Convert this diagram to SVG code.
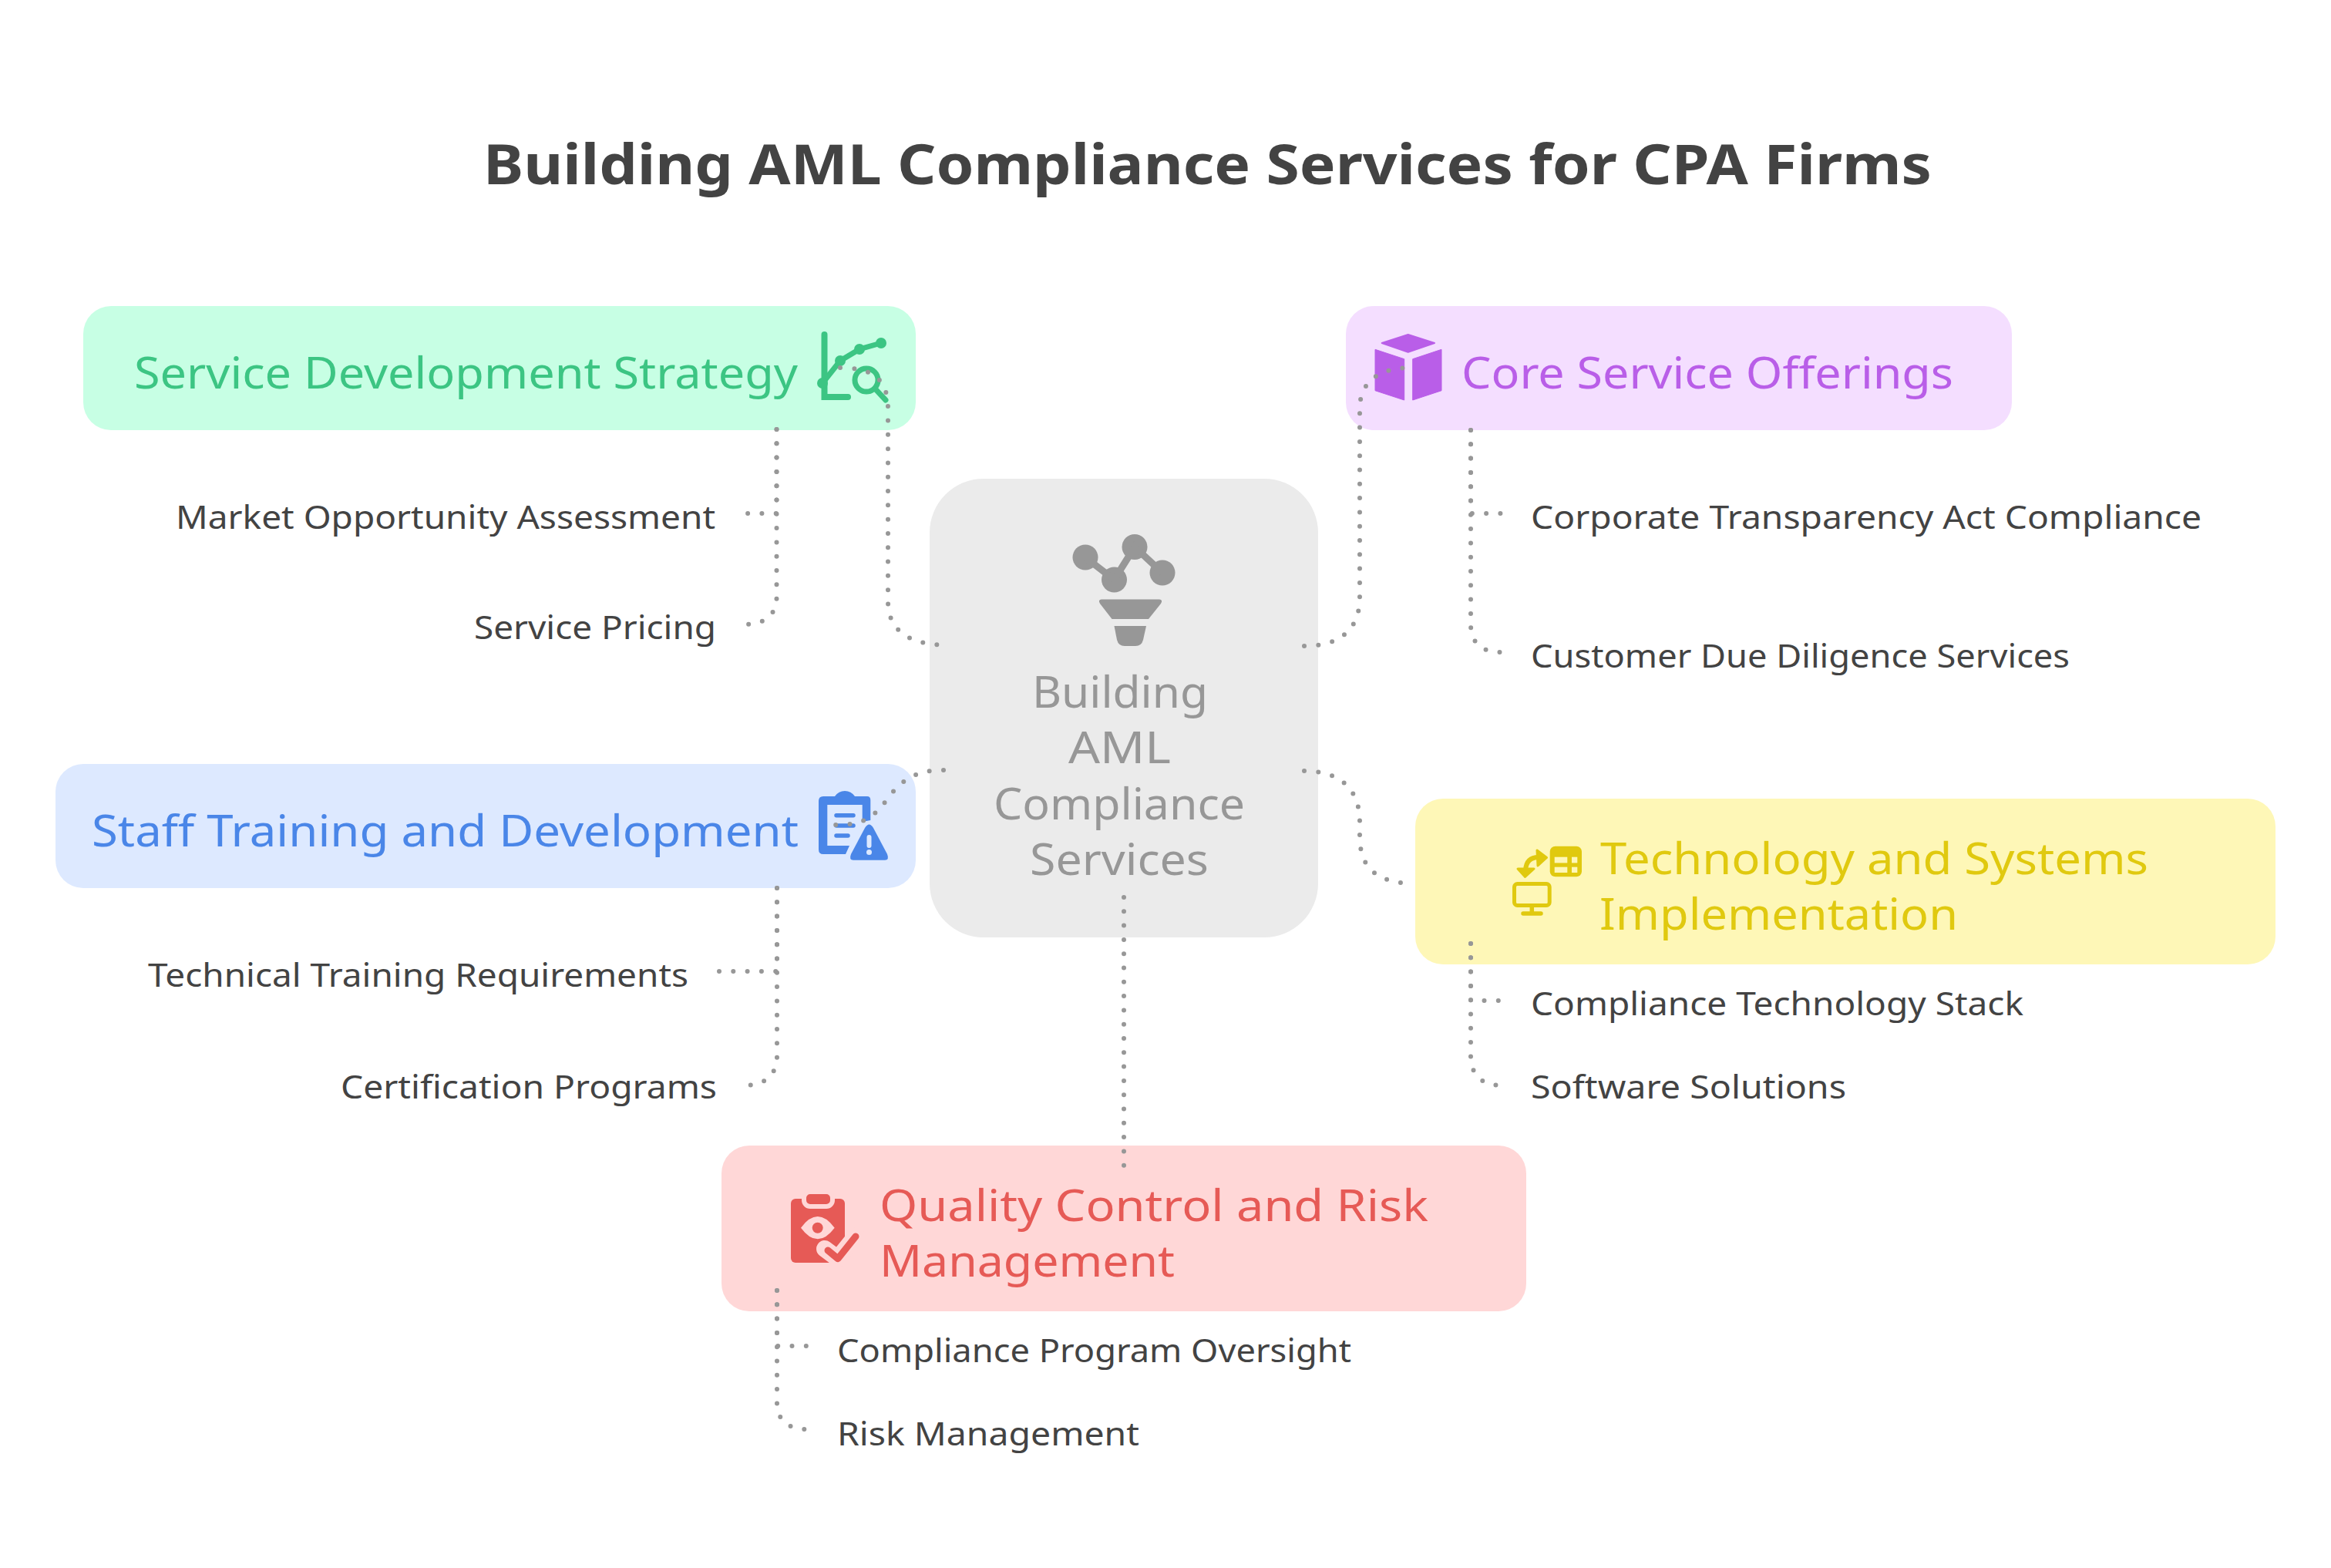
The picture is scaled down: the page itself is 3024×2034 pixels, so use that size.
<svg xmlns="http://www.w3.org/2000/svg" width="3024" height="2034" viewBox="0 0 3024 2034">
<style>
text{font-family:"Noto Sans","Open Sans",sans-serif}
.title{font-size:72px;font-weight:700;fill:#434343}
.sub{font-size:42px;fill:#434343}
.lab{font-size:56px}
.mid{font-size:56px;fill:#979797}
.con{fill:none;stroke:#979797;stroke-width:6;stroke-linecap:round;stroke-dasharray:0 18.3}
.g{fill:#3cc583}.p{fill:#b95ee8}.b{fill:#4a86e8}.y{fill:#e0c90f}.r{fill:#e65a56}.c{fill:#979797}
</style>
<rect width="3024" height="2034" fill="#fff"/>
<text class="title" x="627" y="239" textLength="1879" lengthAdjust="spacingAndGlyphs">Building AML Compliance Services for CPA Firms</text>

<g id="center">
<rect x="1206" y="621" width="504" height="595" rx="70" fill="#ebebeb"/>
<g class="c">
<circle cx="1408" cy="723" r="16.5"/><circle cx="1445.5" cy="752" r="16.5"/><circle cx="1472" cy="709.500" r="16.500"/><circle cx="1508" cy="743" r="16.500"/>
<path d="M1408 723L1445.500 752L1472 709.500L1508 743" fill="none" stroke="#979797" stroke-width="9"/>
<path d="M1429 777.500H1504Q1509 778 1506 783L1490 803H1442.500L1427 783Q1424 778 1429 777.500Z"/>
<path d="M1445.500 812H1487L1483 830Q1481 838 1473 838H1459Q1451 838 1449 830Z"/>
</g>
<text class="mid" x="1339" y="918" textLength="228" lengthAdjust="spacingAndGlyphs">Building</text>
<text class="mid" x="1386" y="990" textLength="133" lengthAdjust="spacingAndGlyphs">AML</text>
<text class="mid" x="1289" y="1063" textLength="326" lengthAdjust="spacingAndGlyphs">Compliance</text>
<text class="mid" x="1336" y="1135" textLength="232" lengthAdjust="spacingAndGlyphs">Services</text>
</g>

<g id="service-development">
<rect x="108" y="397" width="1080" height="161" rx="36" fill="#c7ffe4"/>
<g class="g">
<path d="M1069.500 434V515H1100" fill="none" stroke="#3cc583" stroke-width="8" stroke-linecap="round"/>
<path d="M1067 497L1090 468L1115 453L1143 445" fill="none" stroke="#3cc583" stroke-width="7"/>
<circle cx="1067" cy="497" r="7"/><circle cx="1090" cy="468" r="7"/><circle cx="1115" cy="453" r="7"/><circle cx="1143" cy="445" r="7"/>
<circle cx="1124" cy="493" r="15" fill="#c7ffe4" stroke="#3cc583" stroke-width="7"/>
<path d="M1135 504L1149 519" fill="none" stroke="#3cc583" stroke-width="7" stroke-linecap="round"/>
</g>
<text class="lab g" x="174" y="504" textLength="861" lengthAdjust="spacingAndGlyphs">Service Development Strategy</text>
</g>
<g id="market-opportunity"><text class="sub" x="228" y="686" textLength="700" lengthAdjust="spacingAndGlyphs">Market Opportunity Assessment</text></g>
<g id="service-pricing"><text class="sub" x="615" y="829" textLength="314" lengthAdjust="spacingAndGlyphs">Service Pricing</text></g>

<g id="core-service">
<rect x="1746" y="397" width="864" height="161" rx="36" fill="#f4deff"/>
<g class="p">
<path d="M1826.700 434L1861 445L1826.700 456.700L1792.700 445Z" stroke="#b95ee8" stroke-width="2" stroke-linejoin="round"/>
<path d="M1784 453.300L1821.700 465.700V519L1784 506.700Z" stroke="#b95ee8" stroke-width="1" stroke-linejoin="round"/>
<path d="M1832.700 465.700L1870 453.300V506.700L1832.700 519Z" stroke="#b95ee8" stroke-width="1" stroke-linejoin="round"/>
</g>
<text class="lab p" x="1896" y="504" textLength="638" lengthAdjust="spacingAndGlyphs">Core Service Offerings</text>
</g>
<g id="corporate-transparency"><text class="sub" x="1986" y="686" textLength="870" lengthAdjust="spacingAndGlyphs">Corporate Transparency Act Compliance</text></g>
<g id="customer-due-diligence"><text class="sub" x="1986" y="866" textLength="699" lengthAdjust="spacingAndGlyphs">Customer Due Diligence Services</text></g>

<g id="staff-training">
<rect x="72" y="991" width="1116" height="161" rx="36" fill="#dde9ff"/>
<g class="b">
<path fill-rule="evenodd" d="M1068 1033H1083Q1088 1026 1096 1026Q1104 1026 1109 1033H1125Q1129.300 1033 1129.300 1038V1064L1118.700 1066V1044H1073.300V1097H1102L1097 1108H1068Q1062 1108 1062 1102V1039Q1062 1033 1068 1033Z"/>
<path d="M1085 1057.700H1107M1085 1071H1107M1085 1084H1100" fill="none" stroke="#4a86e8" stroke-width="5.500" stroke-linecap="round"/>
<path d="M1122 1074Q1127.500 1065 1133 1074L1151 1108Q1154 1115.700 1148 1115.700H1107Q1101 1115.700 1104 1108Z"/>
<path d="M1127.500 1086V1097" fill="none" stroke="#dde9ff" stroke-width="6" stroke-linecap="round"/>
<circle cx="1127.500" cy="1105.500" r="3.500" fill="#dde9ff"/>
</g>
<text class="lab b" x="119" y="1098" textLength="917" lengthAdjust="spacingAndGlyphs">Staff Training and Development</text>
</g>
<g id="technical-training"><text class="sub" x="192" y="1280" textLength="701" lengthAdjust="spacingAndGlyphs">Technical Training Requirements</text></g>
<g id="certification-programs"><text class="sub" x="442" y="1425" textLength="488" lengthAdjust="spacingAndGlyphs">Certification Programs</text></g>

<g id="technology-systems">
<rect x="1836" y="1036" width="1116" height="215" rx="36" fill="#fef7b7"/>
<g class="y">
<rect x="2010.700" y="1097.700" width="41.300" height="39.600" rx="7"/>
<g fill="#fef7b7"><rect x="2016.700" y="1111.700" width="16.600" height="7.700"/><rect x="2039" y="1111.700" width="7.300" height="7.700"/><rect x="2016.700" y="1124.700" width="16.600" height="7.300"/><rect x="2039" y="1124.700" width="7.300" height="7.300"/></g>
<rect x="1964.500" y="1146.500" width="45.700" height="28" rx="4" fill="none" stroke="#e0c90f" stroke-width="5"/>
<path d="M1987.300 1176V1185M1976 1185H1999" fill="none" stroke="#e0c90f" stroke-width="5.500" stroke-linecap="round"/>
<path d="M1996 1112Q1980 1112 1979 1129" fill="none" stroke="#e0c90f" stroke-width="6"/>
<path d="M1994 1103L2006.500 1112.500L1995 1123Z" stroke="#e0c90f" stroke-width="3" stroke-linejoin="round"/>
<path d="M1969 1127H1990L1978.500 1137.500Z" stroke="#e0c90f" stroke-width="3" stroke-linejoin="round"/>
</g>
<text class="lab y" x="2076" y="1134" textLength="711" lengthAdjust="spacingAndGlyphs">Technology and Systems</text>
<text class="lab y" x="2075" y="1206" textLength="465" lengthAdjust="spacingAndGlyphs">Implementation</text>
</g>
<g id="compliance-technology"><text class="sub" x="1986" y="1317" textLength="639" lengthAdjust="spacingAndGlyphs">Compliance Technology Stack</text></g>
<g id="software-solutions"><text class="sub" x="1986" y="1425" textLength="409" lengthAdjust="spacingAndGlyphs">Software Solutions</text></g>

<g id="quality-control">
<rect x="936" y="1486" width="1044" height="215" rx="36" fill="#ffd7d7"/>
<g class="r">
<rect x="1026" y="1555" width="70" height="83" rx="6"/>
<rect x="1043" y="1546" width="37" height="19" rx="8" stroke="#ffd7d7" stroke-width="6"/>
<path d="M1039 1592.700Q1060.700 1563.500 1082.700 1592.700Q1060.700 1622 1039 1592.700Z" fill="#ffd7d7"/>
<circle cx="1060.700" cy="1592.700" r="7"/>
<path d="M1070 1620L1087 1632.700L1110.700 1603" fill="none" stroke="#ffd7d7" stroke-width="22" stroke-linecap="round" stroke-linejoin="round"/>
<path d="M1074 1622L1087 1632.700L1110 1604" fill="none" stroke="#e65a56" stroke-width="9" stroke-linecap="round" stroke-linejoin="round"/>
</g>
<text class="lab r" x="1141" y="1584" textLength="712" lengthAdjust="spacingAndGlyphs">Quality Control and Risk</text>
<text class="lab r" x="1141" y="1656" textLength="383" lengthAdjust="spacingAndGlyphs">Management</text>
</g>
<g id="compliance-program"><text class="sub" x="1086" y="1767" textLength="667" lengthAdjust="spacingAndGlyphs">Compliance Program Oversight</text></g>
<g id="risk-management"><text class="sub" x="1086" y="1875" textLength="392" lengthAdjust="spacingAndGlyphs">Risk Management</text></g>

<g id="connectors">
<path class="con" d="M1090 477C1130 477 1152 490 1152 530V780C1152 815 1175 837 1232 837"/>
<path class="con" d="M1692 838C1740 838 1764 815 1764 775V530C1764 495 1790 477 1830 477"/>
<path class="con" d="M1692 1000C1740 1000 1764 1025 1764 1066V1085C1764 1125 1785 1145 1832 1146"/>
<path class="con" d="M1224 999C1190 999 1170 1010 1150 1038C1130 1065 1115 1070 1084 1070"/>
<path class="con" d="M1458 1164V1513"/>
<path class="con" d="M1007.500 557V666H967"/>
<path class="con" d="M1007.500 557V775C1007.500 795 995 810 965 810"/>
<path class="con" d="M1908 558V666H1947"/>
<path class="con" d="M1908 558V810C1908 832 1920 846 1947 846"/>
<path class="con" d="M1008 1152V1260H930"/>
<path class="con" d="M1008 1152V1370C1008 1392 995 1408 965 1408"/>
<path class="con" d="M1908 1224V1298H1947"/>
<path class="con" d="M1908 1224V1370C1908 1392 1920 1408 1948 1408"/>
<path class="con" d="M1008 1674V1746H1046"/>
<path class="con" d="M1008 1674V1820C1008 1840 1020 1854 1046 1854"/>
</g>
</svg>
